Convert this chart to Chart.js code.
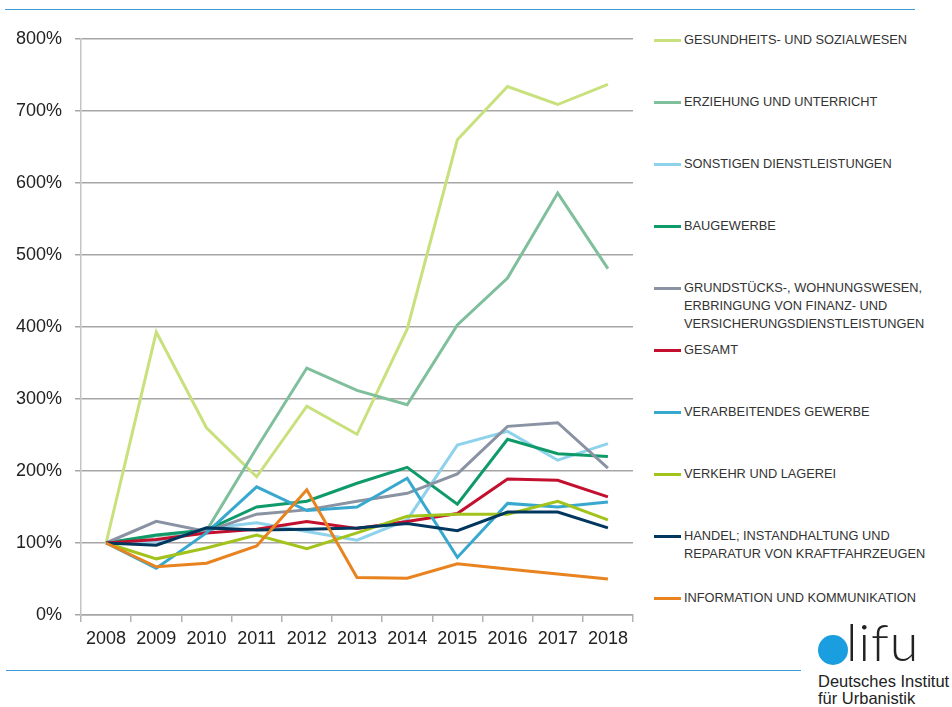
<!DOCTYPE html>
<html>
<head>
<meta charset="utf-8">
<script src="https://cdn.jsdelivr.net/npm/chart.js@4"></script>
<style>
  html, body { margin: 0; padding: 0; background: #fff; }
  body { width: 952px; height: 707px; position: relative; overflow: hidden; font-family: "Liberation Sans", Arial, sans-serif; }
  #topLine { position: absolute; left: 5px; top: 9px; width: 910px; height: 1px; background: #3d9ad2; }
  #bottomLine { position: absolute; left: 6px; top: 670px; width: 795px; height: 1px; background: #3d9ad2; }
  #chartBox { position: absolute; left: 0; top: 0; width: 640px; height: 660px; }
  #legend { position: absolute; left: 654px; top: 31px; width: 298px; }
  .item { height: 62px; display: flex; align-items: flex-start; }
  .swatch { width: 27px; height: 3px; margin-top: 8px; margin-right: 3px; flex: none; }
  .label { font-size: 12.8px; line-height: 18px; color: #333; white-space: nowrap; }
  #logo { position: absolute; left: 810px; top: 618px; width: 142px; height: 89px; }
  #dot { position: absolute; left: 8px; top: 17px; width: 30px; height: 30px; border-radius: 50%; background: #1a9ee0; }
  #lifu { position: absolute; left: 36px; top: -8px; font-family: Lato, "Open Sans", sans-serif; font-weight: 300; font-size: 52px; color: #222; letter-spacing: 1px; }
  #inst { position: absolute; left: 8px; top: 55px; font-size: 16.5px; line-height: 17px; color: #222; white-space: nowrap; }
</style>
</head>
<body>
<div id="topLine"></div>
<div id="chartBox"><canvas id="lineChart"></canvas></div>
<div id="legend"></div>
<div id="bottomLine"></div>
<div id="logo">
  <div id="dot"></div>
  <div id="lifu">lifu</div>
  <div id="inst">Deutsches Institut<br>für Urbanistik</div>
</div>
<script>
// Jahre (x-Achse)
const years = ['2008', '2009', '2010', '2011', '2012', '2013', '2014', '2015', '2016', '2017', '2018'];

// Werte in Prozent (2008 = 100 %)
const gesundheit     = [100, 393, 260, 192, 290, 251, 397, 660, 734, 709, 737];
const erziehung      = [100, 110, 117, 232, 343, 312, 292, 403, 468, 586, 481];
const sonstigen      = [100, 102, 120, 128, 116, 104, 132, 236, 255, 215, 238];
const baugewerbe     = [100, 111, 118, 150, 158, 183, 205, 154, 244, 224, 220];
const grundstuecks   = [100, 130, 116, 140, 146, 158, 169, 196, 262, 267, 204];
const gesamt         = [100, 105, 114, 119, 130, 120, 130, 141, 189, 187, 164];
const verarbeitendes = [100, 65, 114, 178, 145, 150, 190, 80, 155, 150, 157];
const verkehr        = [100, 78, 93, 111, 92, 114, 137, 140, 140, 158, 132];
const handel         = [100, 97, 121, 118, 119, 121, 127, 117, 143, 143, 121];
const information    = [100, 67, 72, 96, 174, 52, 51, 71, 64, 57, 50];

// y-Achse
const yTicks = [0, 100, 200, 300, 400, 500, 600, 700, 800];

const seriesLabels = [
    ['GESUNDHEITS- UND SOZIALWESEN'],
    ['ERZIEHUNG UND UNTERRICHT'],
    ['SONSTIGEN DIENSTLEISTUNGEN'],
    ['BAUGEWERBE'],
    ['GRUNDSTÜCKS-, WOHNUNGSWESEN,', 'ERBRINGUNG VON FINANZ- UND', 'VERSICHERUNGSDIENSTLEISTUNGEN'],
    ['GESAMT'],
    ['VERARBEITENDES GEWERBE'],
    ['VERKEHR UND LAGEREI'],
    ['HANDEL; INSTANDHALTUNG UND', 'REPARATUR VON KRAFTFAHRZEUGEN'],
    ['INFORMATION UND KOMMUNIKATION']
];
const seriesData = [gesundheit, erziehung, sonstigen, baugewerbe, grundstuecks, gesamt, verarbeitendes, verkehr, handel, information];
const seriesColors = ['#c9e17c', '#7fbf9c', '#8fd2ec', '#0f9a69', '#8a93a3', '#c3102f', '#38a8cf', '#a2c31b', '#00375f', '#e8831f'];

document.addEventListener('DOMContentLoaded', function() {
    const datasets = seriesData.map(function(values, i) {
        return {
            label: seriesLabels[i].join(' '),
            data: values,
            borderColor: seriesColors[i],
            backgroundColor: seriesColors[i],
            borderWidth: 3,
            pointRadius: 0,
            tension: 0,
            fill: false,
            order: seriesData.length - i   // spätere Reihen oben
        };
    });

    const ctx = document.getElementById('lineChart').getContext('2d');
    new Chart(ctx, {
        type: 'line',
        data: { labels: years, datasets: datasets },
        options: {
            responsive: true,
            maintainAspectRatio: false,
            animation: false,
            layout: { padding: { top: 39, right: 7, left: 0, bottom: 0 } },
            plugins: {
                legend: { display: false },
                tooltip: { enabled: false }
            },
            scales: {
                x: {
                    offset: true,
                    grid: { offset: true, drawOnChartArea: false, drawTicks: true, tickLength: 7, color: '#b3b3b3', lineWidth: 1.5 },
                    border: { color: '#a6a6a6', width: 1.5 },
                    ticks: { color: '#222', font: { family: 'Liberation Sans', size: 18 }, padding: 6, maxRotation: 0 },
                    afterFit: function(scale) { scale.height = 45; }
                },
                y: {
                    min: 0,
                    max: 800,
                    afterBuildTicks: function(scale) {
                        scale.ticks = yTicks.map(function(v) { return { value: v }; });
                    },
                    grid: { color: '#a6a6a6', lineWidth: 1.5, tickLength: 6 },
                    border: { color: '#c4c4c4', width: 1.5 },
                    ticks: {
                        color: '#222',
                        font: { family: 'Liberation Sans', size: 18 },
                        padding: 13,
                        callback: function(v) { return v + '%'; }
                    },
                    afterFit: function(scale) { scale.width = 81; }
                }
            }
        }
    });

    // Legende rechts
    const legend = document.getElementById('legend');
    seriesLabels.forEach(function(lines, i) {
        const item = document.createElement('div');
        item.className = 'item';
        const sw = document.createElement('div');
        sw.className = 'swatch';
        sw.style.background = seriesColors[i];
        const lb = document.createElement('div');
        lb.className = 'label';
        lb.innerHTML = lines.join('<br>');
        item.appendChild(sw);
        item.appendChild(lb);
        legend.appendChild(item);
    });
});
</script>
</body>
</html>
